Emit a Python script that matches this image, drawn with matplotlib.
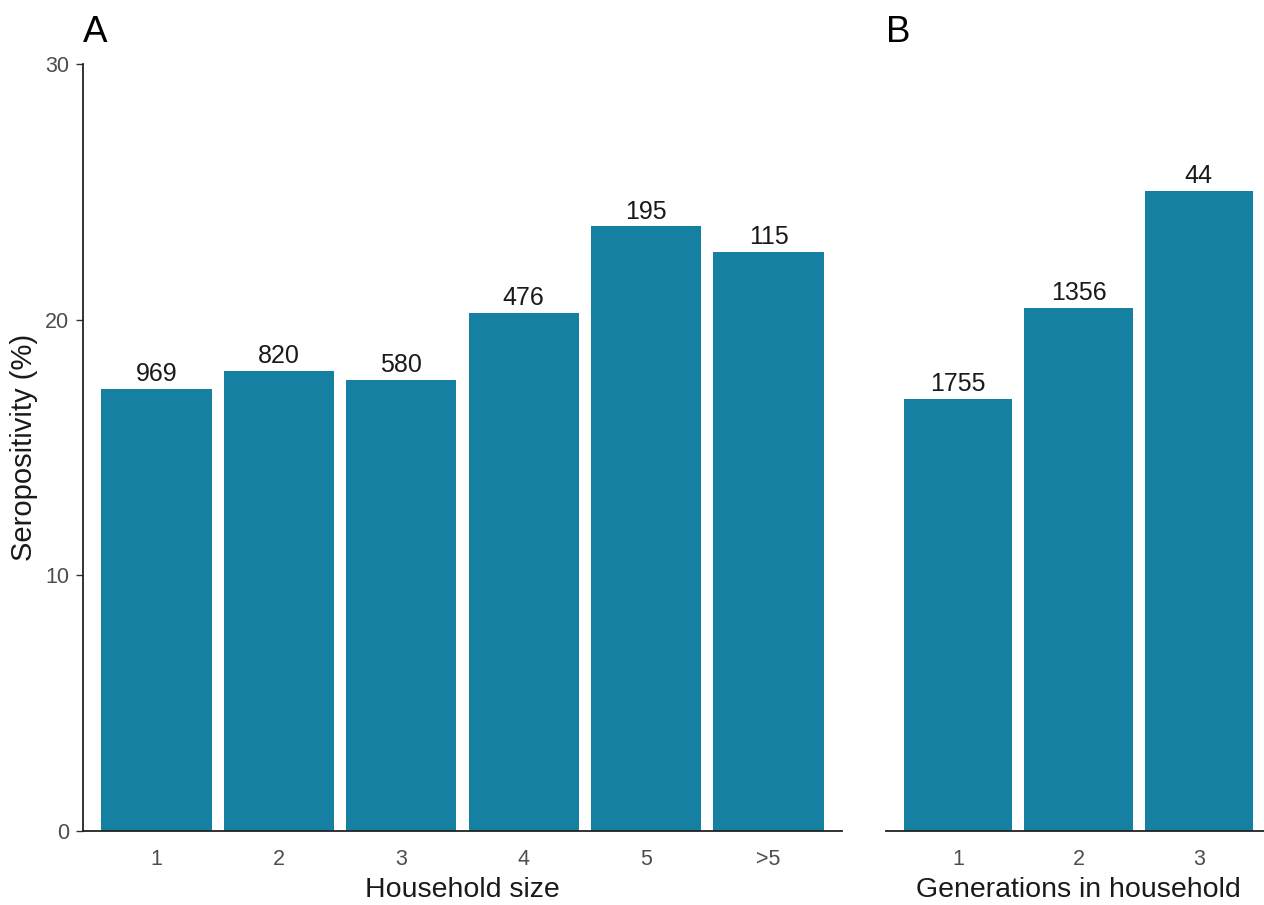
import matplotlib.pyplot as plt

plt.rcParams['font.family'] = ['Liberation Sans', 'DejaVu Sans']

# panel A: seropositivity by household size
size_cats = ['1', '2', '3', '4', '5', '>5']
size_pct = [17.3, 18.0, 17.65, 20.25, 23.65, 22.65]
size_n = [969, 820, 580, 476, 195, 115]

# panel B: seropositivity by generations living in the household
gen_cats = ['1', '2', '3']
gen_pct = [16.9, 20.45, 25.05]
gen_n = [1755, 1356, 44]

BAR = '#1580A1'
W, H = 1264, 905

fig = plt.figure(figsize=(W / 100, H / 100), dpi=100)
ax1 = fig.add_axes([83 / W, (H - 831) / H, (842 - 83) / W, (831 - 64) / H])
ax2 = fig.add_axes([886 / W, (H - 831) / H, (1271 - 886) / W, (831 - 64) / H])


def draw_panel(ax, cats, pct, n, xlabel, tag):
    xs = range(len(cats))
    ax.bar(xs, pct, width=0.9, color=BAR)
    for x, v, lab in zip(xs, pct, n):
        ax.annotate(str(lab), (x, v), xytext=(0, 2), textcoords='offset points',
                    ha='center', va='bottom', fontsize=18, color='#1a1a1a')
    ax.set_xlim(-0.6, len(cats) - 0.4)
    ax.set_ylim(0, 30)
    ax.set_xticks(list(xs))
    ax.set_xticklabels(cats)
    ax.tick_params(axis='x', length=0, pad=13, labelsize=15.5, labelcolor='#4d4d4d')
    ax.set_xlabel(xlabel, fontsize=20.5, color='#1a1a1a', labelpad=5)
    for s in ['top', 'right']:
        ax.spines[s].set_visible(False)
    ax.spines['bottom'].set_linewidth(1.3)
    ax.spines['bottom'].set_color('#222222')
    ax.text(0, 1.018, tag, transform=ax.transAxes, fontsize=26.5, ha='left', va='bottom',
            color='black')


draw_panel(ax1, size_cats, size_pct, size_n, 'Household size', 'A')
draw_panel(ax2, gen_cats, gen_pct, gen_n, 'Generations in household', 'B')

ax1.set_yticks([0, 10, 20, 30])
ax1.tick_params(axis='y', length=5, width=1, color='#333333', pad=5,
                labelsize=15.5, labelcolor='#4d4d4d')
ax1.spines['left'].set_linewidth(1.3)
ax1.spines['left'].set_color('#222222')
ax1.set_ylabel('Seropositivity (%)', fontsize=21, color='#1a1a1a', labelpad=5)

ax2.spines['left'].set_visible(False)
ax2.set_yticks([])

fig.savefig('out.png', dpi=100)
